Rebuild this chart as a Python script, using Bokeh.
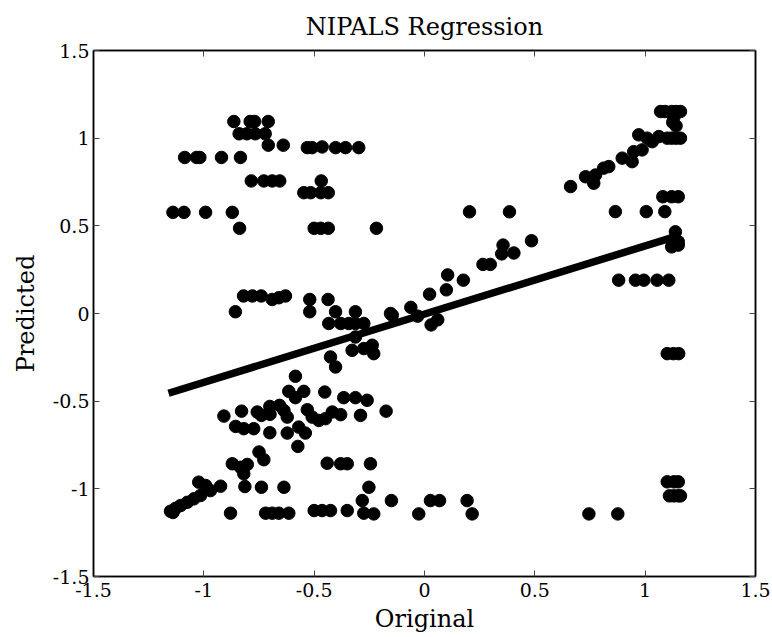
from bokeh.plotting import figure
from bokeh.models import Range1d, FixedTicker, LinearAxis
from bokeh.embed import file_html
from bokeh.resources import INLINE

# ---- data ----
orig_x = [
    -0.864, -0.79, -0.77, -0.708,
    -0.84, -0.805, -0.767, -0.722,
    -0.708, -0.64, -0.531, -0.509, -0.464, -0.403, -0.358, -0.298,
    -1.087, -1.033, -1.018, -0.92, -0.834,
    -0.785, -0.728, -0.69, -0.656, -0.468,
    -0.547, -0.516, -0.47, -0.436,
    -1.14, -1.09, -0.992, -0.871,
    -0.838, -0.50, -0.47, -0.436, -0.218,
    -0.82, -0.78, -0.74, -0.69, -0.66, -0.63,
    -0.857, -0.52, -0.437, -0.52, -0.403, -0.313, -0.154,
    -0.434, -0.38, -0.343, -0.313, -0.275,
    -0.313,
    -0.328, -0.275, -0.237, -0.23,
    -0.426, -0.403,
    -0.585, -0.615, -0.585, -0.547, -0.452,
    -0.909, -0.829, -0.758, -0.739, -0.701, -0.70, -0.657, -0.637, -0.622,
    -0.531, -0.509, -0.479, -0.449, -0.418,
    -0.366, -0.313, -0.26, -0.38, -0.29, -0.174,
    -0.856, -0.819, -0.774, -0.701, -0.622, -0.57, -0.54, -0.574,
    -0.75, -0.728, -0.871, -0.834, -0.803, -0.819,
    -0.441, -0.38, -0.35, -0.245,
    -1.023, -0.992, -0.97, -0.924, -0.814, -0.739, -0.637, -0.252,
    -1.151, -1.128, -1.105, -1.075, -1.045, -1.015, -1.14,
    -0.879, -0.72, -0.69, -0.66, -0.615,
    -0.50, -0.464, -0.426, -0.35,
    -0.282, -0.15, -0.275, -0.23,
    -0.026, 0.027, 0.068, 0.193, 0.216,
    0.745, 0.876,
    -0.146, -0.062, -0.031, 0.03, 0.06,
    0.023, 0.099, 0.105, 0.176, 0.265, 0.298, 0.356, 0.35, 0.405, 0.485,
    0.204, 0.385,
    0.662, 0.73, 0.767, 0.775, 0.812, 0.835, 0.896, 0.941, 0.948, 0.986,
    0.971, 1.009, 1.032, 1.062,
    1.10, 1.12, 1.14, 1.16,
    1.07, 1.09, 1.12, 1.14, 1.16,
    1.125, 1.14, 1.13,
    0.865, 1.005, 1.089,
    1.08, 1.12, 1.15,
    1.137, 1.12, 1.15, 1.15,
    0.88, 0.956, 0.994, 1.054, 1.107,
    1.10, 1.128, 1.152,
    1.10, 1.13, 1.15,
    1.11, 1.13, 1.15, 1.16,
]
pred_y = [
    1.095, 1.095, 1.095, 1.095,
    1.025, 1.025, 1.025, 1.025,
    0.96, 0.96, 0.946, 0.946, 0.95, 0.946, 0.946, 0.946,
    0.89, 0.89, 0.89, 0.89, 0.89,
    0.756, 0.756, 0.756, 0.756, 0.756,
    0.689, 0.689, 0.689, 0.689,
    0.577, 0.577, 0.577, 0.577,
    0.486, 0.486, 0.486, 0.486, 0.486,
    0.10, 0.10, 0.10, 0.08, 0.09, 0.10,
    0.01, 0.08, 0.08, 0.01, 0.01, 0.01, 0.0,
    -0.057, -0.057, -0.057, -0.057, -0.057,
    -0.134,
    -0.21, -0.2, -0.181, -0.229,
    -0.248, -0.305,
    -0.358, -0.444, -0.48, -0.444, -0.448,
    -0.585, -0.557, -0.562, -0.581, -0.53, -0.575, -0.524, -0.553, -0.591,
    -0.549, -0.591, -0.61, -0.60, -0.562,
    -0.48, -0.48, -0.495, -0.577, -0.581, -0.557,
    -0.644, -0.657, -0.657, -0.68, -0.682, -0.648, -0.682, -0.758,
    -0.79, -0.834, -0.857, -0.877, -0.861, -0.914,
    -0.854, -0.857, -0.857, -0.857,
    -0.962, -0.981, -1.01, -0.985, -0.987, -0.991, -0.991, -0.991,
    -1.128, -1.111, -1.095, -1.077, -1.057, -1.038, -1.135,
    -1.139, -1.139, -1.139, -1.139, -1.139,
    -1.124, -1.124, -1.124, -1.124,
    -1.067, -1.067, -1.139, -1.143,
    -1.143, -1.067, -1.067, -1.067, -1.143,
    -1.143, -1.143,
    -0.01, 0.035, -0.015, -0.065, -0.036,
    0.11, 0.135, 0.22, 0.19, 0.28, 0.28, 0.39, 0.34, 0.345, 0.415,
    0.58, 0.58,
    0.724, 0.78, 0.743, 0.79, 0.829, 0.838, 0.886, 0.866, 0.923, 0.933,
    1.019, 1.0, 0.98, 1.009,
    1.0, 1.0, 1.0, 1.0,
    1.152, 1.152, 1.152, 1.152, 1.152,
    1.09, 1.07, 1.12,
    0.581, 0.581, 0.581,
    0.666, 0.666, 0.666,
    0.466, 0.38, 0.41, 0.39,
    0.19, 0.19, 0.19, 0.19, 0.19,
    -0.229, -0.229, -0.229,
    -0.96, -0.96, -0.96,
    -1.04, -1.04, -1.04, -1.04,
]

fit_x = [-1.16, 1.14]
fit_y = [-0.455, 0.44]

ticks = [-1.5, -1, -0.5, 0, 0.5, 1, 1.5]
tick_labels = ["-1.5", "-1", "-0.5", "0", "0.5", "1", "1.5"]

FONT = "DejaVu Serif"

p = figure(width=772, height=637, output_backend="svg", toolbar_location=None,
           x_range=Range1d(-1.5, 1.5), y_range=Range1d(-1.5, 1.5),
           title="NIPALS Regression",
           min_border_left=93, min_border_right=17,
           min_border_top=50, min_border_bottom=61,
           background_fill_color="white", border_fill_color="white")

p.title.align = "center"
p.title.text_font = FONT
p.title.text_font_size = "24px"
p.title.text_font_style = "normal"
p.title.text_color = "black"
p.title.standoff = 19

p.grid.visible = False
p.outline_line_color = "black"
p.outline_line_width = 1.5

overrides = {t: l for t, l in zip(ticks, tick_labels)}

def style_axis(ax, show_labels=True):
    ax.ticker = FixedTicker(ticks=ticks)
    ax.major_label_overrides = overrides
    ax.minor_tick_line_color = None
    ax.major_tick_in = 6
    ax.major_tick_out = 0
    ax.major_tick_line_color = "#444444"
    ax.axis_line_color = "black"
    ax.axis_line_width = 1.5
    ax.major_label_text_font = FONT
    ax.major_label_text_color = "black"
    if show_labels:
        ax.major_label_text_font_size = "19px"
        ax.major_label_standoff = 4
    else:
        ax.major_label_text_font_size = "0px"
        ax.major_label_text_alpha = 0
        ax.major_label_standoff = 0
    ax.axis_label_text_font = FONT
    ax.axis_label_text_font_style = "normal"
    ax.axis_label_text_font_size = "24px"
    ax.axis_label_text_color = "black"
    ax.axis_label_standoff = 4

p.xaxis.axis_label = "Original"
p.yaxis.axis_label = "Predicted"
style_axis(p.xaxis[0])
style_axis(p.yaxis[0])
p.yaxis[0].major_label_orientation = "horizontal"
p.yaxis[0].axis_label_standoff = 10
p.xaxis[0].major_label_standoff = 6
p.xaxis[0].axis_label_standoff = 5

right_ax = LinearAxis()
top_ax = LinearAxis()
style_axis(right_ax, show_labels=False)
style_axis(top_ax, show_labels=False)
p.add_layout(right_ax, "right")
p.add_layout(top_ax, "above")

p.line(fit_x, fit_y, line_color="black", line_width=7.5, line_cap="butt")
p.scatter(orig_x, pred_y, size=12.5, marker="circle",
          fill_color="black", line_color="black")

open("out.html", "w").write(file_html(p, INLINE))
